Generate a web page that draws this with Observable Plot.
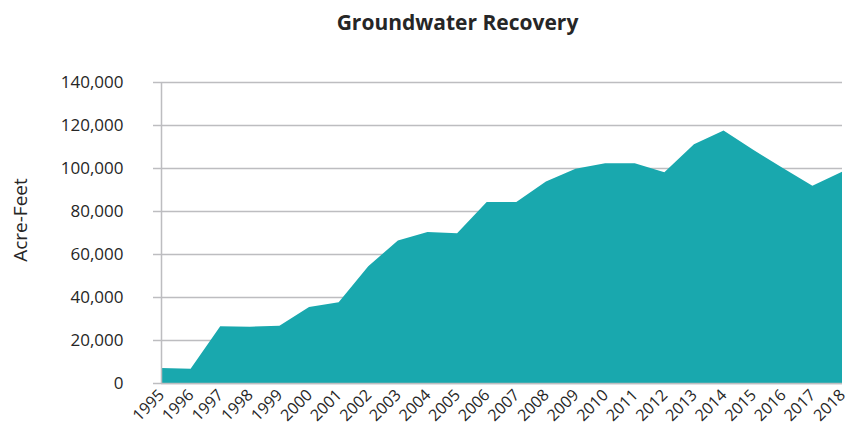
<!DOCTYPE html>
<html>
<head>
<meta charset="utf-8">
<script src="https://cdn.jsdelivr.net/npm/d3@7"></script>
<script src="https://cdn.jsdelivr.net/npm/@observablehq/plot@0.6"></script>
<style>
  html, body { margin: 0; padding: 0; background: #fff; }
  #title { width: 851px; height: 40px; line-height: 44px; text-align: center; font-family: "Open Sans", sans-serif; font-weight: bold; font-size: 21px; color: #262626; padding-left: 64px; box-sizing: border-box; }
</style>
</head>
<body>
<div id="title">Groundwater Recovery</div>
<div id="chart"></div>
<script>
const years = [1995,1996,1997,1998,1999,2000,2001,2002,2003,2004,2005,2006,2007,2008,2009,2010,2011,2012,2013,2014,2015,2016,2017,2018];
const acreFeet = [7000,6600,26400,26200,26600,35300,37600,54300,66300,70200,69600,84200,84200,93700,99600,102200,102200,98000,111000,117500,108500,100000,91800,98300];
const yTicks = [0,20000,40000,60000,80000,100000,120000,140000];
const yLabel = "Acre-Feet";

const data = years.map((y, i) => ({year: y, value: acreFeet[i]}));
const font = "'Open Sans', sans-serif";
const textColor = "#262626";
const gridColor = "#bdbdc0";

const chart = Plot.plot({
  width: 851,
  height: 398,
  marginLeft: 161,
  marginRight: 9,
  marginTop: 42,
  marginBottom: 55,
  style: {fontFamily: font, color: textColor, background: "#fff"},
  x: {domain: [1995, 2018], type: "linear"},
  y: {domain: [0, 140000]},
  marks: [
    Plot.gridY(yTicks, {stroke: gridColor, strokeOpacity: 1, strokeWidth: 1.5}),
    Plot.areaY(data, {x: "year", y: "value", fill: "#19a8ae", curve: "linear"}),
    Plot.ruleY([0], {stroke: gridColor, strokeWidth: 1.5}),
    Plot.ruleX([1995], {stroke: gridColor, strokeWidth: 1.5}),
    Plot.axisY(yTicks, {tickSize: 8, tickPadding: 30, tickFormat: d => d3.format(",")(d), fontSize: 17, stroke: gridColor, strokeWidth: 1.5, strokeOpacity: 1, fill: textColor, label: null}),
    Plot.axisX(years, {tickSize: 0, tickRotate: -45, tickPadding: 9, tickFormat: d => String(d), fontSize: 16, fill: textColor, label: null}),
    Plot.text([yLabel], {frameAnchor: "left", rotate: -90, textAnchor: "middle", dx: -141, dy: -13, fontSize: 19, fill: textColor})
  ]
});
document.getElementById("chart").appendChild(chart);
</script>
</body>
</html>
